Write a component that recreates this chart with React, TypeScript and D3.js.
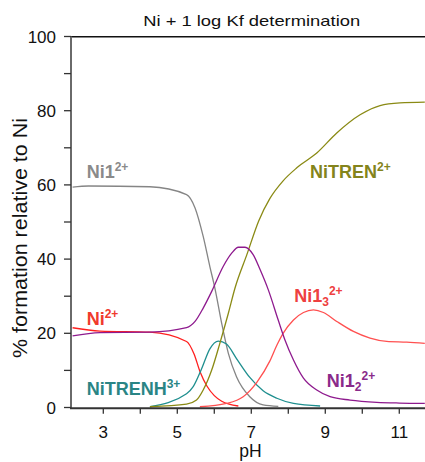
import React from "react";
import * as d3 from "d3";

// ---- data ----
const pHNi1 = [2.17, 2.6, 4.26, 5.25, 5.48, 5.7, 5.88, 6.02, 6.2, 6.38, 6.6, 6.96, 7.32, 7.73];
const valNi1 = [59.4, 59.7, 59.5, 57.4, 53.8, 46.1, 38, 32, 22.7, 14.6, 8.3, 2.9, 0.7, 0.3];

const pHNi = [2.17, 2.91, 4.26, 5.25, 5.45, 5.62, 5.8, 6.0, 6.2, 6.4, 6.65];
const valNi = [21.5, 20.6, 20.3, 17.8, 14.5, 9.5, 5.8, 3.2, 1.7, 0.9, 0.4];

const pHNi12 = [2.17, 2.91, 4.26, 5.25, 5.48, 5.7, 5.93, 6.24, 6.47, 6.65, 6.83, 7.05, 7.24, 7.46, 7.73, 7.91, 8.14, 8.41, 8.77, 9.13, 9.67, 10.39, 11.0, 11.69];
const valNi12 = [19.3, 20.2, 20.3, 21.5, 23.2, 26.8, 31.3, 38, 41.6, 43.2, 43.2, 41.2, 37.1, 31.7, 23.5, 18.2, 12.8, 7.9, 4.7, 2.9, 2.0, 1.4, 1.2, 1.1];

const pHTrenH = [4.26, 5.25, 5.43, 5.66, 5.88, 6.11, 6.33, 6.6, 6.96, 7.32, 7.69, 8.14, 8.86];
const valTrenH = [0.2, 3.7, 5.6, 10.5, 15.8, 17.9, 17.1, 13.2, 8.1, 4.5, 2.5, 1.1, 0.4];

const pHTren = [4.26, 5.25, 5.52, 5.7, 5.93, 6.15, 6.38, 6.56, 6.88, 7.2, 7.5, 7.86, 8.23, 8.77, 9.31, 9.94, 10.48, 11.02, 11.69];
const valTren = [0.2, 0.9, 2, 4.7, 10.1, 17.3, 25.4, 32.2, 41.2, 50.3, 56.3, 61.1, 64.6, 68.6, 74, 78.9, 81.4, 82.1, 82.3];

const pHNi13 = [5.61, 6.33, 6.78, 7.15, 7.5, 7.7, 7.86, 8.14, 8.41, 8.68, 8.95, 9.31, 9.76, 10.21, 10.66, 11.2, 11.69];
const valNi13 = [0.2, 1.1, 2.9, 6.8, 12.5, 17, 20, 23.6, 25.6, 26.3, 25.6, 23.2, 20.5, 18.7, 17.8, 17.6, 17.3];

const xMajorTicks = [3, 5, 7, 9, 11];
const xMinorTicks = [4, 6, 8, 10];
const yMajorTicks = [0, 20, 40, 60, 80, 100];
const yMinorTicks = [10, 30, 50, 70, 90];

const series = [
  { name: "Ni1", xs: pHNi1, ys: valNi1, color: "#858585" },
  { name: "Ni", xs: pHNi, ys: valNi, color: "#ff1f1f" },
  { name: "NiTRENH", xs: pHTrenH, ys: valTrenH, color: "#1f8f8f" },
  { name: "NiTREN", xs: pHTren, ys: valTren, color: "#8a8a14" },
  { name: "Ni13", xs: pHNi13, ys: valNi13, color: "#ff5050" },
  { name: "Ni12", xs: pHNi12, ys: valNi12, color: "#8e1a8e" },
];

// labels: anchor in data coordinates (pH, %)
type Part = { t: string; k: "n" | "sup" | "sub" };
const labels: { pH: number; v: number; color: string; parts: Part[] }[] = [
  { pH: 2.55, v: 61.8, color: "#8a8a8a", parts: [{ t: "Ni1", k: "n" }, { t: "2+", k: "sup" }] },
  { pH: 2.55, v: 22.2, color: "#f03a2c", parts: [{ t: "Ni", k: "n" }, { t: "2+", k: "sup" }] },
  { pH: 2.55, v: 3.4, color: "#2a8585", parts: [{ t: "NiTRENH", k: "n" }, { t: "3+", k: "sup" }] },
  { pH: 8.59, v: 61.8, color: "#84841c", parts: [{ t: "NiTREN", k: "n" }, { t: "2+", k: "sup" }] },
  { pH: 8.16, v: 28.5, color: "#ee4040", parts: [{ t: "Ni1", k: "n" }, { t: "3", k: "sub" }, { t: "2+", k: "sup" }] },
  { pH: 9.04, v: 5.6, color: "#8a2a8a", parts: [{ t: "Ni1", k: "n" }, { t: "2", k: "sub" }, { t: "2+", k: "sup" }] },
];

const W = 425;
const H = 462;
const FONT = "'Liberation Sans', Arial, Helvetica, sans-serif";

export default function App() {
  const x = d3.scaleLinear().domain([2.127, 11.695]).range([71, 425]);
  const y = d3.scaleLinear().domain([0, 100]).range([407.5, 36.5]);
  const line = d3
    .line<[number, number]>()
    .x((d) => x(d[0]))
    .y((d) => y(d[1]))
    .curve(d3.curveMonotoneX);

  const axisY = 408.3;
  return (
    <svg width={W} height={H} style={{ position: "absolute", left: 0, top: 0, background: "#fff" }} fontFamily={FONT}>
      <rect x={0} y={0} width={W} height={H} fill="#fff" />
      {/* title */}
      <text x={251.7} y={25.5} fontSize={15} textAnchor="middle" textLength={217} lengthAdjust="spacingAndGlyphs" fill="#111">
        Ni + 1 log Kf determination
      </text>
      {/* frame top */}
      <line x1={70} x2={425} y1={36.8} y2={36.8} stroke="#111" strokeWidth={1.5} />
      {/* series */}
      {series.map((s) => (
        <path
          key={s.name}
          d={line(s.xs.map((v, i) => [v, s.ys[i]] as [number, number])) || ""}
          fill="none"
          stroke={s.color}
          strokeWidth={1.3}
        />
      ))}
      {/* y axis */}
      <line x1={71} x2={71} y1={36.5} y2={axisY} stroke="#6a6a6a" strokeWidth={2} />
      {yMajorTicks.concat(yMinorTicks).map((t) => (
        <line key={"yt" + t} x1={64} x2={71} y1={y(t)} y2={y(t)} stroke="#333" strokeWidth={1.3} />
      ))}
      {yMajorTicks.map((t) => (
        <text key={"yl" + t} x={56} y={y(t) + 6} fontSize={17} textAnchor="end" fill="#111">
          {t}
        </text>
      ))}
      {/* x axis */}
      <line x1={70} x2={425} y1={axisY} y2={axisY} stroke="#333" strokeWidth={2} />
      {xMajorTicks.concat(xMinorTicks).map((t) => (
        <line key={"xt" + t} x1={x(t)} x2={x(t)} y1={axisY} y2={axisY + 5.5} stroke="#333" strokeWidth={1.3} />
      ))}
      {xMajorTicks.map((t) => (
        <text key={"xl" + t} x={x(t)} y={437.5} fontSize={17} textAnchor="middle" fill="#111">
          {t}
        </text>
      ))}
      <text x={250.5} y={457} fontSize={17.5} textAnchor="middle" fill="#111">
        pH
      </text>
      <text
        transform={`translate(26.5,238) rotate(-90)`}
        fontSize={20}
        textAnchor="middle"
        textLength={240}
        lengthAdjust="spacingAndGlyphs"
        fill="#111"
      >
        % formation relative to Ni
      </text>
      {/* series labels */}
      {labels.map((l, i) => {
        let shift = 0;
        return (
          <text key={"lab" + i} x={x(l.pH)} y={y(l.v)} fill={l.color} fontWeight="bold" fontSize={18}>
            {l.parts.map((p, j) => {
              let dy = 0;
              if (p.k === "sup") {
                dy = -7 - shift;
                shift = -7;
              } else if (p.k === "sub") {
                dy = 4 - shift;
                shift = 4;
              } else {
                dy = -shift;
                shift = 0;
              }
              return (
                <tspan key={j} dy={dy} fontSize={p.k === "n" ? 18 : 12}>
                  {p.t}
                </tspan>
              );
            })}
          </text>
        );
      })}
    </svg>
  );
}
